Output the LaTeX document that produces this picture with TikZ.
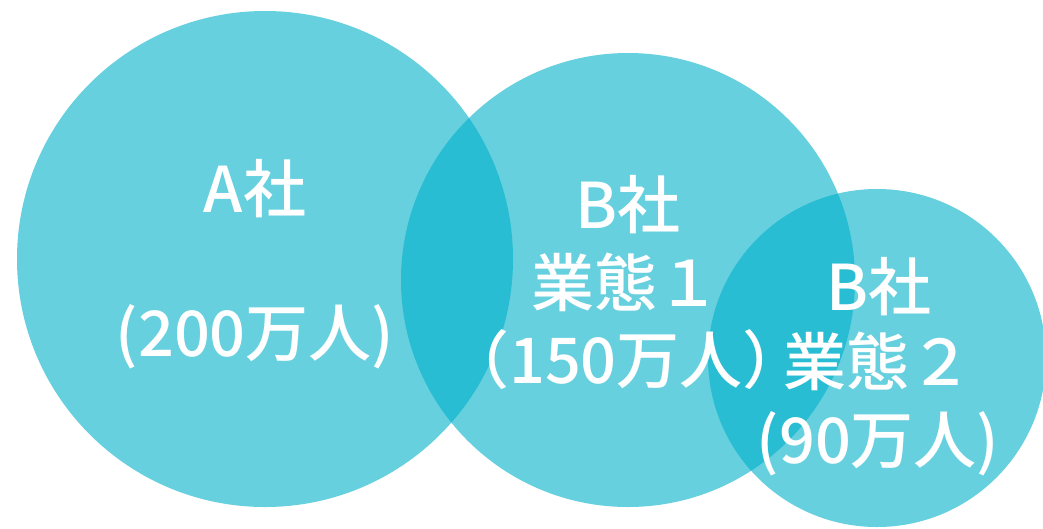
\documentclass[tikz,border=0pt]{standalone}
\usepackage{fontspec}
\newfontfamily\jp{Noto Sans CJK JP Medium}
\definecolor{venn}{RGB}{0,176,202}
\tikzset{
  disc/.style={circle, fill=venn, fill opacity=0.6, draw=none, inner sep=0pt},
  lbl/.style={text=white, anchor=base, inner sep=0pt, font=\jp\fontsize{63}{76}\selectfont},
}
\begin{document}
\begin{tikzpicture}[x=1pt, y=-1pt]
\useasboundingbox (0,0) rectangle (1043,528);
\node[disc, minimum size=496pt] (ca) at (265,259) {};
\node[disc, minimum size=454pt] (cb) at (628,280) {};
\node[disc, minimum size=338pt] (cc) at (877,358) {};
\node[lbl] (a1) at (255,212) {A社};
\node[lbl] (a2) at (255,356) {(200万人)};
\node[lbl] (b1) at (628,228) {B社};
\node[lbl] (b2) at (626,306) {業態１};
\node[lbl] (b3) at (626,383) {（150万人）};
\node[lbl] (c1) at (879,310) {B社};
\node[lbl] (c2) at (878,385) {業態２};
\node[lbl] (c3) at (878,463) {(90万人)};
\end{tikzpicture}
\end{document}
